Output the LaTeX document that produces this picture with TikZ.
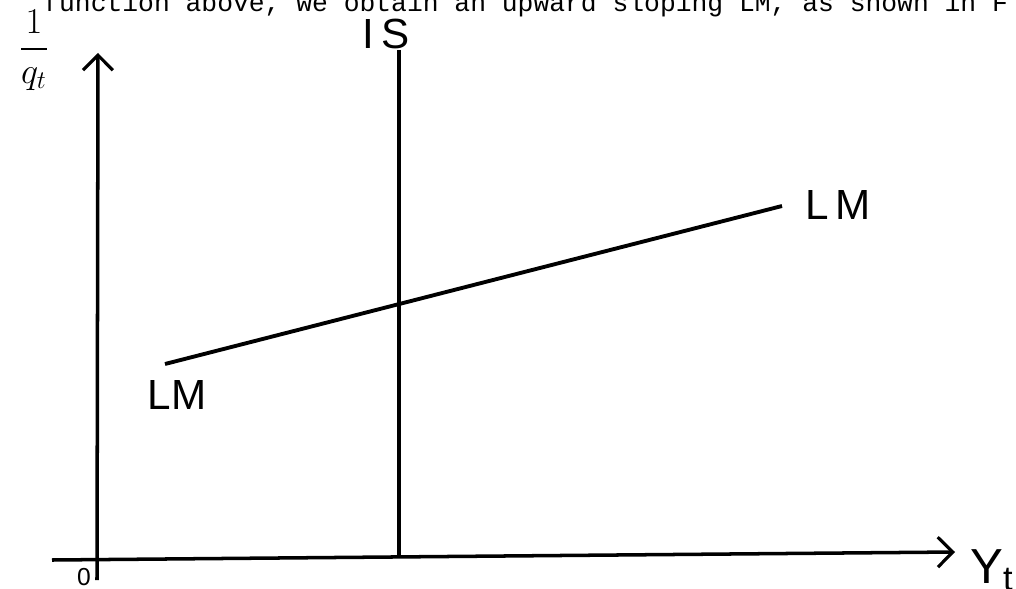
\documentclass[tikz,border=0pt]{standalone}
\usepackage{amsmath}
\usepackage{fontspec}
\setmainfont{Liberation Sans}
\setmonofont{Liberation Mono}
\usetikzlibrary{arrows.meta}

\begin{document}
\begin{tikzpicture}[
    x=0.02cm, y=-0.02cm,
    axis/.style={line width=2pt, -{Straight Barb[length=0.3cm, width=0.6cm, line width=1.8pt]}},
    curve/.style={line width=2pt},
    hand/.style={inner sep=0pt, font=\fontsize{24}{28}\selectfont}
]
\useasboundingbox (0,0) rectangle (1016,588);

% Text line above (cut off)
\node[anchor=base west, inner sep=0pt, font=\ttfamily\fontsize{15}{18}\selectfont] (caption) at (43,12) {function above, we obtain an upward sloping LM, as shown in F};

% Axes
\coordinate (xstart) at (52,560);
\coordinate (xend) at (955,552);
\coordinate (ybottom) at (97,580);
\coordinate (yend) at (98,53);
\draw[axis] (xstart) -- (xend);
\draw[axis] (ybottom) -- (yend);

% IS
\coordinate (istop) at (399,50);
\coordinate (isbottom) at (399,557);
\draw[curve, line width=1.8pt] (istop) -- (isbottom);

% LM
\coordinate (lmleft) at (165,364);
\coordinate (lmright) at (782,206);
\draw[curve, line width=2.2pt] (lmleft) -- (lmright);

% Labels
\node[hand] (lmlow) at (177,395) {LM};
\node[hand] (lmhigh) at (838,205) {L\,M};
\node[hand] (islabel) at (386,34) {I\,S};
\node[hand, font=\fontsize{28}{32}\selectfont, anchor=west] (ylabel) at (970,570) {Y\textsubscript{t}};
\node[hand, font=\fontsize{14}{16}\selectfont] (origin) at (84,577) {0};
\node[hand, font=\fontsize{21}{24}\selectfont] (qlabel) at (34,50) {$\dfrac{1}{q_t}$};

\end{tikzpicture}
\end{document}
